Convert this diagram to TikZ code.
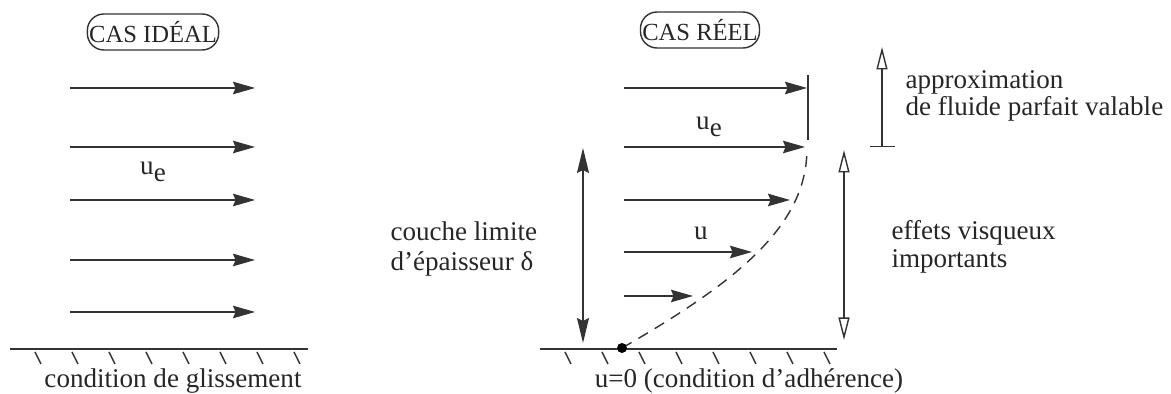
\documentclass[tikz,border=0pt]{standalone}
\usepackage{fontspec}
\setmainfont{Liberation Serif}
\usetikzlibrary{arrows.meta, positioning}

\tikzset{
  vel/.style={-{Stealth[length=0.44cm, width=0.25cm, inset=0.05cm]}},
  thick arrow/.style={{Stealth[length=0.5cm, width=0.24cm, inset=0.06cm]}-{Stealth[length=0.5cm, width=0.24cm, inset=0.06cm]}},
  open arrow/.style={{Triangle[open, length=0.45cm, width=0.22cm]}-{Triangle[open, length=0.45cm, width=0.22cm]}},
  casbox/.style={draw, rounded corners=0.33cm, inner xsep=1pt, inner ysep=3pt,
    minimum height=0.72cm, font=\fontsize{14}{16}\selectfont},
  profile/.style={dash pattern=on 0.22cm off 0.16cm},
  hatch/.style={line width=0.8pt},
}

\newcommand{\ue}{u\raisebox{-0.5ex}{e}}

\begin{document}
\begin{tikzpicture}[x=0.02cm, y=-0.02cm, line width=0.8pt, color=black!80,
  every node/.style={text=black!85, font=\fontsize{15.4}{17}\selectfont}]
\useasboundingbox (0,0) rectangle (1171,394);

% cas ideal
\node[casbox] (ideal) at (153,32) {CAS IDÉAL};
\foreach \y [count=\i] in {88,147,200,260,312} {
  \coordinate (ls\i) at (70,\y);
  \coordinate (le\i) at (255,\y);
  \draw[vel] (ls\i) -- (le\i);
}
\node (uel) at (153,172) {\ue};

\coordinate (wl1) at (10,349);
\coordinate (wl2) at (308,349);
\draw (wl1) -- (wl2);
\foreach \x in {35,72,...,294}
  \draw[hatch] (\x,352) -- ++(6,12);
\node (glis) at (173,381) {condition de glissement};

% cas reel
\node[casbox] (reel) at (700,30) {CAS RÉEL};
\foreach \y/\xe [count=\i] in {88/807,147/805,200/790,252/752,296/693} {
  \coordinate (rs\i) at (624,\y);
  \coordinate (re\i) at (\xe,\y);
  \draw[vel] (rs\i) -- (re\i);
}
\node (uer) at (709,127) {\ue};
\node (u) at (701,233) {u};

\coordinate (vt) at (808,75);
\coordinate (vb) at (808,140);
\draw (vt) -- (vb);

\coordinate (wr1) at (540,349);
\coordinate (wr2) at (837,349);
\coordinate (P) at (622,348);
\draw (wr1) -- (wr2);
\foreach \x in {565,602,...,825}
  \draw[hatch] (\x,352) -- ++(6,12);
\draw[profile] (P) .. controls (740,280) and (806,225) .. (807,150);
\fill[black] (P) circle (5);
\node (adh) at (749,381) {u=0 (condition d’adhérence)};

% epaisseur
\coordinate (dt) at (583,148);
\coordinate (db) at (583,343);
\draw[thick arrow] (dt) -- (db);
\node[anchor=west, align=left, font=\fontsize{15.4}{17}\selectfont] (couche) at (384,249)
  {couche limite\\d’épaisseur δ};

% zones
\coordinate (at) at (882,47);
\coordinate (ab) at (882,147);
\draw[{Bar[width=0.5cm]}-{Triangle[open, length=0.45cm, width=0.22cm]}] (ab) -- (at);
\node[anchor=west, align=left, font=\fontsize{15.4}{15.5}\selectfont] (approx) at (899,96)
  {approximation\\de fluide parfait valable};

\coordinate (et) at (844,150);
\coordinate (eb) at (844,340);
\draw[open arrow] (et) -- (eb);
\node[anchor=west, align=left, font=\fontsize{15.4}{16}\selectfont] (visq) at (885,247)
  {effets visqueux\\importants};
\end{tikzpicture}
\end{document}
